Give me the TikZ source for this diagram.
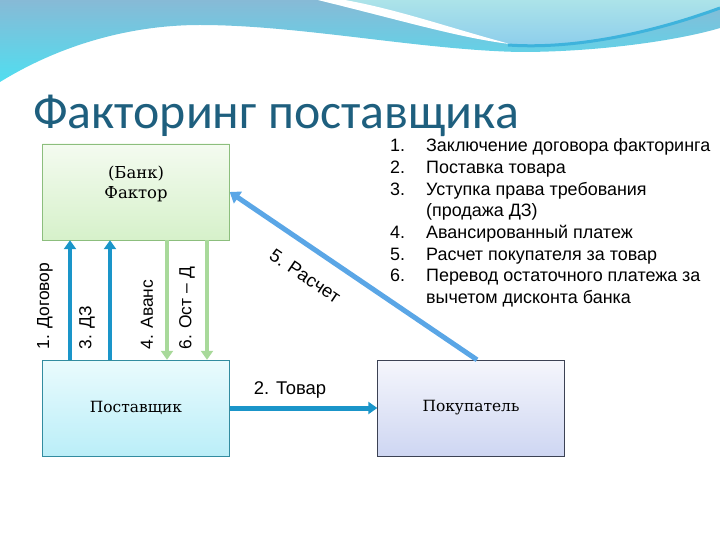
\documentclass[tikz,border=0pt]{standalone}
\usepackage{fontspec}
\setmainfont{Liberation Sans}
\newfontfamily\boxfont{DejaVu Serif}
\newfontfamily\titlefont{Carlito}
\usetikzlibrary{arrows.meta}

\definecolor{titleblue}{HTML}{1E5F7E}
\definecolor{arrblue}{HTML}{1A95C9}
\definecolor{arrgreen}{HTML}{A8D99A}
\definecolor{calcblue}{HTML}{5AA6E6}
\definecolor{waveA}{RGB}{135,186,214}
\definecolor{waveB}{RGB}{80,222,240}
\definecolor{waveC}{RGB}{172,227,233}
\definecolor{waveD}{RGB}{138,204,236}
\definecolor{waveline}{RGB}{62,179,220}

\begin{document}
\begin{tikzpicture}[x=1bp,y=-1bp,
    box/.style={draw, minimum width=187bp, minimum height=96bp, inner sep=0pt},
    boxtext/.style={font=\boxfont\fontsize{15.5}{21}\selectfont, align=center},
    uparr/.style={line width=4bp, draw=arrblue, -{Triangle[width=12bp,length=9bp]}},
    downarr/.style={line width=4bp, draw=arrgreen, -{Triangle[width=12bp,length=9bp]}},
    vlab/.style={rotate=90, anchor=west, inner sep=0pt, font=\fontsize{17.5}{20}\selectfont},
    hlab/.style={inner sep=1pt, font=\fontsize{18.5}{22}\selectfont}]
  \useasboundingbox (0,0) rectangle (720,540);
  % header wave
  \shade[top color=waveA, bottom color=waveB]
    (0,0) -- (720,0) -- (720,28) .. controls (680,40) and (600,52) .. (520,52)
    .. controls (420,50) and (300,25) .. (200,25) .. controls (130,25) and (60,45) .. (0,82) -- cycle;
  \shade[top color=waveC, bottom color=waveD]
    (318,0) .. controls (400,20) and (460,38) .. (510,44) .. controls (580,50) and (660,30) .. (720,8)
    -- (720,0) -- cycle;
  \fill[white] (318,0) .. controls (400,20) and (460,38) .. (510,44)
    .. controls (450,28) and (400,10) .. (345,0) -- cycle;
  \draw[line width=3bp, draw=waveline] (508,45) .. controls (580,50) and (660,30) .. (720,8);

  \node[anchor=base west, inner sep=0pt, text=titleblue, font=\titlefont\fontsize{50}{54}\selectfont] (ttl) at (33,129) {Факторинг поставщика};

  % boxes
  \node[box, draw={rgb,255:red,140;green,190;blue,125}, top color={rgb,255:red,244;green,251;blue,240}, bottom color={rgb,255:red,214;green,241;blue,202}] (fakt) at (136,192) {};
  \node[boxtext, font=\boxfont\fontsize{16.5}{20}\selectfont] at ([yshift=8bp]fakt.center) {(Банк)\\Фактор};
  \node[box, draw={rgb,255:red,50;green,140;blue,160}, top color={rgb,255:red,234;green,251;blue,253}, bottom color={rgb,255:red,186;green,238;blue,248}, boxtext] (post) at (136,408) {Поставщик};
  \node[box, draw={rgb,255:red,60;green,66;blue,84}, top color={rgb,255:red,245;green,246;blue,252}, bottom color={rgb,255:red,206;green,214;blue,242}, boxtext] (buy) at (471,408) {Покупатель};

  % flows
  \draw[uparr] ([xshift=-66bp]post.north) -- ([xshift=-66bp]fakt.south);
  \draw[uparr] ([xshift=-26bp]post.north) -- ([xshift=-26bp]fakt.south);
  \draw[downarr] ([xshift=31bp]fakt.south) -- ([xshift=31bp]post.north);
  \draw[downarr] ([xshift=71bp]fakt.south) -- ([xshift=71bp]post.north);
  \node[vlab] (l1) at ([xshift=-91bp,yshift=10bp]post.north) {1. Договор};
  \node[vlab] (l3) at ([xshift=-49bp,yshift=10bp]post.north) {3. ДЗ};
  \node[vlab] (l4) at ([xshift=11bp,yshift=10bp]post.north) {4. Аванс};
  \node[vlab] (l6) at ([xshift=51bp,yshift=10bp]post.north) {6. Ост – Д};

  \draw[uparr, line width=5bp] (post.east) -- (buy.west);
  \node[hlab] (l2) at (290,390) {2. Товар};
  \draw[line width=5bp, draw=calcblue, -{Triangle[width=14bp,length=10bp]}] ([xshift=6bp]buy.north) -- (fakt.east);
  \node[hlab, rotate=-34] (l5) at (305,276) {5. Расчет};

  % list of steps
  \node[anchor=base west, inner sep=0pt, font=\fontsize{18}{21.7}\selectfont] (lst) at (390,152) {%
    \begin{tabular}[t]{@{}l@{\hspace{21bp}}l@{}}
    1. & Заключение договора факторинга\\
    2. & Поставка товара\\
    3. & Уступка права требования\\
       & (продажа ДЗ)\\
    4. & Авансированный платеж\\
    5. & Расчет покупателя за товар\\
    6. & Перевод остаточного платежа за\\
       & вычетом дисконта банка
    \end{tabular}};
\end{tikzpicture}
\end{document}
